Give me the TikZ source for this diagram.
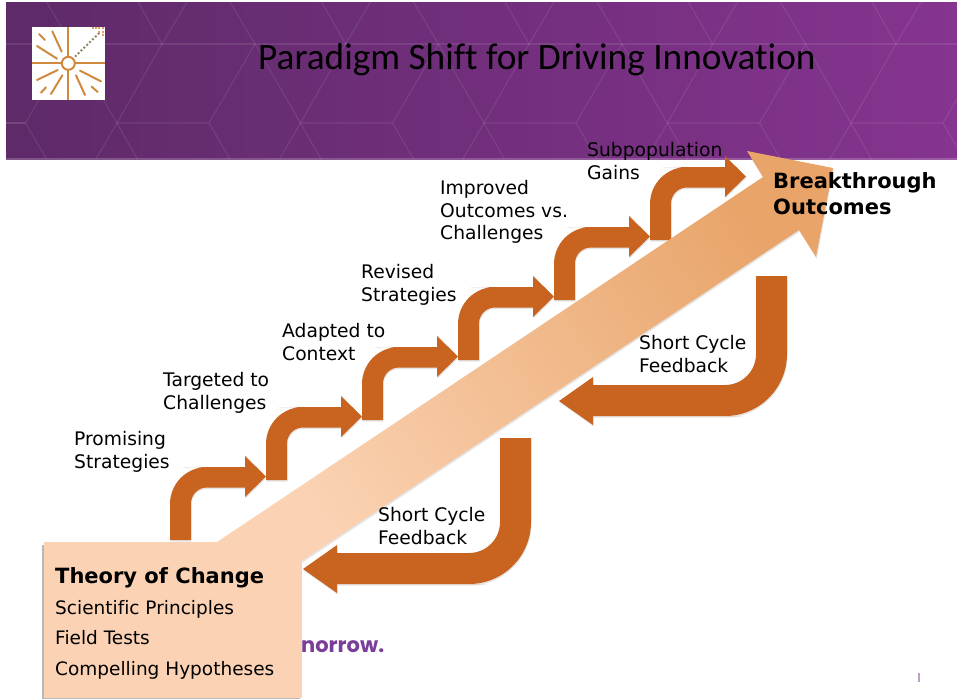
\documentclass[tikz,border=0pt]{standalone}
\usepackage{fontspec}
\setmainfont{DejaVu Sans}[Ligatures=NoCommon]
\newfontfamily\titlefont{Carlito}[Ligatures=NoCommon]
\newfontfamily\wordfont{Poppins}
\definecolor{headL}{HTML}{5E2A68}
\definecolor{headR}{HTML}{85348F}
\definecolor{burnt}{HTML}{C96420}
\definecolor{peach}{HTML}{FBD3B4}
\definecolor{tipc}{HTML}{E8A469}
\definecolor{logoc}{HTML}{D08A3E}
\definecolor{wordc}{HTML}{7B3F98}
\tikzset{
  lbl/.style={anchor=north west,inner sep=0pt,align=left,text=black,font=\fontsize{18.7}{22.6}\selectfont},
  blbl/.style={anchor=north west,inner sep=0pt,align=left,text=black,font=\fontsize{21}{26}\selectfont\bfseries},
  boxlbl/.style={anchor=west,inner sep=0pt,text=black,font=\fontsize{18.5}{23}\selectfont},
  hexline/.style={draw=white,draw opacity=.09,line width=1.1pt},
  ray/.style={draw=logoc,line width=2pt,line cap=round},
  shaft/.style={fill=burnt,draw=none},
  soft/.style={fill=black,fill opacity=.1,draw=none}
}
\newcommand{\bentshape}{(0,0) -- (0,-30) [rounded corners=37pt] -- (0,-73) -- (50,-73) [sharp corners] -- (75,-73) -- (75,-84) -- (96,-63.5) -- (75,-43) -- (75,-52.5) -- (50,-52.5) [rounded corners=16pt] -- (21,-52.5) -- (21,-20) [sharp corners] -- (21,0) -- cycle}
\newcommand{\fbshape}[1]{(756,#1) -- (787,#1) -- (787,330) [rounded corners=62pt] -- (787,416) -- (680,416) [sharp corners] -- (593,416) -- (593,425) -- (559,401) -- (593,377) -- (593,385) -- (680,385) [rounded corners=31pt] -- (756,385) -- (756,330) [sharp corners] -- cycle}
\begin{document}
\begin{tikzpicture}[x=1pt,y=-1pt]
\path[use as bounding box,fill=white] (0,0) rectangle (957,699);
% header
\shade[left color=headL,right color=headR] (6,2) rectangle (957,159);
\begin{scope}
\clip (6,2) rectangle (957,159);
\draw[hexline] (6,44) -- (957,44);
\draw[hexline] (6,123) -- (25,123);
\foreach \k in {-1,...,4}{
  \begin{scope}[xshift=\k*183.5pt]
    \draw[hexline] (138,2) -- (162,44) -- (187,2);
    \draw[hexline] (162,44) -- (117,123) -- (209,123) -- (255,44) -- (230,2);
    \draw[hexline] (255,44) -- (321,159);
    \draw[hexline] (117,123) -- (96,159);
    \draw[hexline] (209,123) -- (230,159);
  \end{scope}
}
\end{scope}
\fill[white,opacity=.2] (6,158) rectangle (957,159.5);
\node[anchor=base west,inner sep=0pt,text=black,font=\fontsize{37.3}{42}\selectfont\titlefont] (title) at (258,69.5) {Paradigm Shift for Driving Innovation};
% logo
\fill[white] (32,27) rectangle (105,100);
\begin{scope}[shift={(25,20)},x=.3333pt,y=-.3333pt]
  \draw[logoc,line width=2pt] (130,22) -- (130,110) (130,150) -- (130,240) (21,130) -- (110,130) (150,130) -- (240,130);
  \draw[logoc,line width=2pt] (130,130) circle[radius=6.5pt];
  \draw[ray] (36,78) -- (96,116);
  \draw[ray] (82,34) -- (110,95);
  \draw[ray] (42,42) -- (60,60);
  \draw[ray] (36,180) -- (98,150);
  \draw[ray] (78,222) -- (112,166);
  \draw[ray] (48,218) -- (63,202);
  \draw[ray] (153,166) -- (180,225);
  \draw[ray] (165,152) -- (228,184);
  \draw[ray] (200,200) -- (218,216);
  \draw[draw=gray!70!logoc,line width=2pt,dash pattern=on 2pt off 2pt] (150,110) -- (226,36);
  \foreach \a/\b in {203/25,213/25,223/25,233/25,233/35,233/45,223/35}{\fill[logoc!80!white] (\a-3,\b-3) rectangle (\a+3,\b+3);}
\end{scope}
% partly hidden word
\node[anchor=base west,inner sep=0pt,text=wordc,font=\fontsize{21}{24}\selectfont\wordfont\bfseries] (word) at (301,652) {norrow.};
% bent arrows
\foreach \i/\bx/\by in {1/170/540,2/266/480,3/362/420,4/458/360,5/554/300,6/650/240}{
  \begin{scope}[shift={(\bx,\by)}]
    \fill[soft,shift={(.5,1.5)}] \bentshape;
    \fill[shaft] \bentshape;
  \end{scope}
}
% big arrow
\fill[soft,shift={(.7,1.7)}] (217,542) -- (763,177) -- (747,151) -- (833,168) -- (816,257) -- (799,230) -- (300,562) -- cycle;
\shade[bottom color=peach,top color=tipc,shading angle=-55] (217,542) -- (763,177) -- (747,151) -- (833,168) -- (816,257) -- (799,230) -- (300,562) -- cycle;
% box
\fill[black!28] (41.5,545) rectangle (300,699);
\fill[peach] (44,542) rectangle (302,698);
% feedback arrows
\foreach \dx/\dy/\ty in {0/0/276,-256/168/270}{
  \begin{scope}[shift={(\dx,\dy)}]
    \fill[soft,shift={(.5,1.5)}] \fbshape{\ty};
    \fill[shaft] \fbshape{\ty};
  \end{scope}
}
% labels
\node[lbl] (l1) at (74,431) {Promising\\Strategies};
\node[lbl] (l2) at (163,372) {Targeted to\\Challenges};
\node[lbl] (l3) at (282,323) {Adapted to\\Context};
\node[lbl] (l4) at (361,264) {Revised\\Strategies};
\node[lbl] (l5) at (440,180) {Improved\\Outcomes vs.\\Challenges};
\node[lbl] (l6) at (587,142) {Subpopulation\\Gains};
\node[lbl] (f1) at (378,507) {Short Cycle\\Feedback};
\node[lbl] (f2) at (639,335) {Short Cycle\\Feedback};
\node[blbl] (bo) at (773,172) {Breakthrough\\Outcomes};
\node[anchor=west,inner sep=0pt,text=black,font=\fontsize{21}{26}\selectfont\bfseries] (toc) at (55,578) {Theory of Change};
\node[boxlbl] (b1) at (55,609) {Scientific Principles};
\node[boxlbl] (b2) at (55,638) {Field Tests};
\node[boxlbl] (b3) at (55,670) {Compelling Hypotheses};
\fill[wordc!50!white] (918.3,673) rectangle (919.5,682);
\end{tikzpicture}
\end{document}
